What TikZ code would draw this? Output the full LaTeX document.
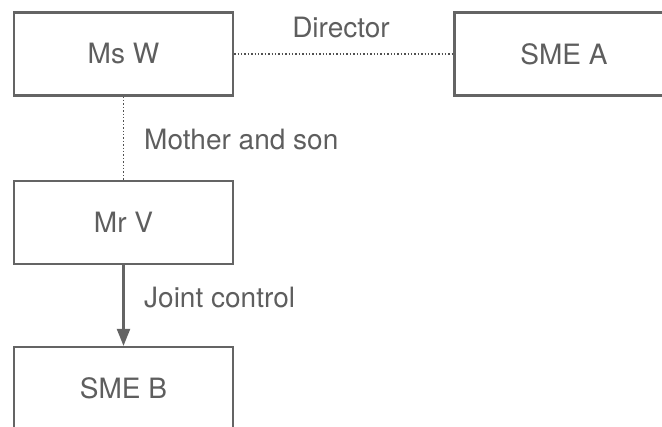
\documentclass[tikz,border=0pt]{standalone}
\usepackage{fontspec}
\setmainfont{TeX Gyre Heros}
\usetikzlibrary{arrows.meta}
\definecolor{inkgray}{HTML}{5E5E5E}
\definecolor{linegray}{HTML}{646464}
\definecolor{dotgray}{HTML}{505050}
\begin{document}
\begin{tikzpicture}[x=1pt,y=1pt,
  entity/.style={draw=linegray, line width=2.2pt, minimum width=219pt, minimum height=83pt,
    inner sep=0pt, text=inkgray, font=\fontsize{28}{32}\selectfont},
  relation/.style={draw=dotgray, line width=1.7pt, dash pattern=on 1.5pt off 1.9pt},
  control/.style={draw=linegray, line width=2.2pt, -{Triangle[width=13pt,length=17pt]}},
  tag/.style={text=inkgray, font=\fontsize{28}{32}\selectfont, inner sep=0pt}]
  \useasboundingbox (0,0) rectangle (662,-427);
  \clip (0,0) rectangle (662,-427);

  % persons and companies
  \node[entity] (msw)  at (123.5,-54)    {Ms W};
  \node[entity] (smea) at (564,-54)      {SME A};
  \node[entity] (mrv)  at (123.5,-222.5) {Mr V};
  \node[entity] (smeb) at (123.5,-388.5) {SME B};

  % relationships
  \draw[relation] (msw.east) -- (smea.west);
  \draw[relation] (msw.south) -- (mrv.north);
  \draw[control] (mrv.south) -- (smeb.north);

  % labels
  \node[tag, anchor=base] (ldir) at (341,-38) {Director};
  \node[tag, anchor=base west] (lmom) at (144,-150) {Mother and son};
  \node[tag, anchor=base west] (ljc) at (144,-308) {Joint control};
\end{tikzpicture}
\end{document}
